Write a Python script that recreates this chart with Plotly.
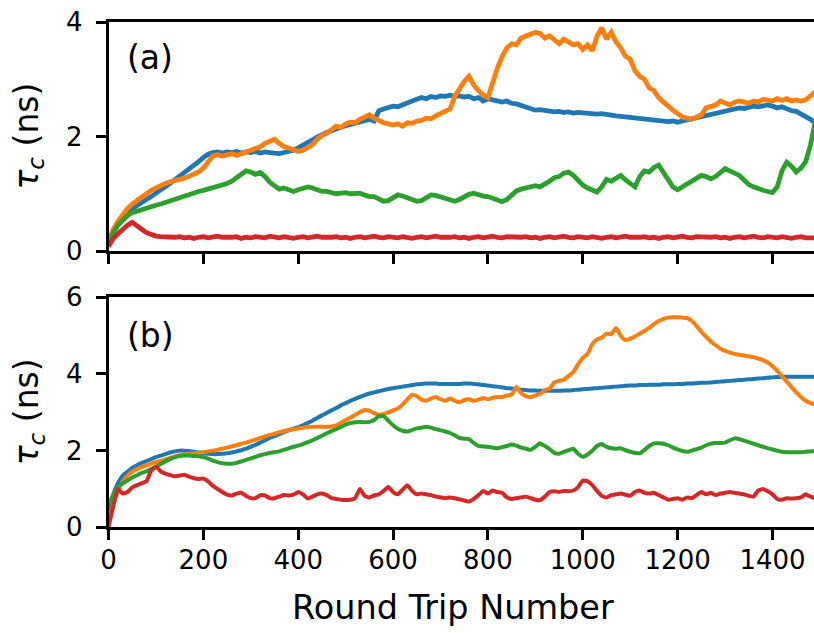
import plotly.graph_objects as go

# Round trip numbers sampled every 10 trips
rt_a = list(range(0, 1500, 10))
rt_b = list(range(0, 1500, 10))

# Panel (a): correlation time tau_c (ns)
tau_a_blue = [
    0.15, 0.35, 0.48, 0.58, 0.66, 0.74, 0.80, 0.85, 0.90, 0.95,
    1.02, 1.07, 1.12, 1.18, 1.25, 1.32, 1.36, 1.42, 1.50, 1.56,
    1.63, 1.69, 1.72, 1.73, 1.71, 1.73, 1.72, 1.74, 1.71, 1.73,
    1.72, 1.74, 1.71, 1.73, 1.72, 1.71, 1.70, 1.72, 1.73, 1.76,
    1.80, 1.84, 1.88, 1.94, 1.99, 2.04, 2.07, 2.10, 2.14, 2.16,
    2.19, 2.21, 2.24, 2.26, 2.28, 2.30, 2.27, 2.45, 2.48, 2.50,
    2.53, 2.52, 2.56, 2.60, 2.62, 2.65, 2.68, 2.66, 2.70, 2.68,
    2.71, 2.70, 2.72, 2.70, 2.71, 2.69, 2.70, 2.66, 2.68, 2.62,
    2.66, 2.64, 2.62, 2.60, 2.62, 2.58, 2.57, 2.54, 2.50, 2.49,
    2.46, 2.47, 2.45, 2.44, 2.43, 2.44, 2.42, 2.43, 2.41, 2.42,
    2.41, 2.40, 2.41, 2.39, 2.40, 2.38, 2.37, 2.36, 2.35, 2.34,
    2.35, 2.32, 2.31, 2.30, 2.29, 2.30, 2.28, 2.27, 2.26, 2.27,
    2.25, 2.27, 2.29, 2.31, 2.33, 2.35, 2.37, 2.40, 2.42, 2.43,
    2.44, 2.46, 2.48, 2.50, 2.49, 2.51, 2.53, 2.52, 2.54, 2.55,
    2.53, 2.50, 2.52, 2.48, 2.45, 2.44, 2.40, 2.36, 2.30, 2.24,
]
tau_a_orange = [
    0.15, 0.38, 0.52, 0.64, 0.74, 0.82, 0.88, 0.95, 1.01, 1.06,
    1.10, 1.15, 1.18, 1.21, 1.22, 1.25, 1.27, 1.30, 1.33, 1.38,
    1.45, 1.55, 1.66, 1.68, 1.66, 1.68, 1.70, 1.67, 1.70, 1.72,
    1.74, 1.78, 1.82, 1.88, 1.92, 1.95, 1.88, 1.82, 1.80, 1.78,
    1.74, 1.76, 1.80, 1.86, 1.95, 2.02, 2.06, 2.12, 2.18, 2.16,
    2.22, 2.25, 2.24, 2.30, 2.34, 2.38, 2.32, 2.27, 2.24, 2.22,
    2.20, 2.22, 2.18, 2.24, 2.23, 2.27, 2.28, 2.32, 2.31, 2.36,
    2.40, 2.45, 2.48, 2.70, 2.85, 2.96, 3.05, 2.90, 2.80, 2.72,
    2.68, 2.95, 3.20, 3.40, 3.55, 3.62, 3.60, 3.72, 3.75, 3.78,
    3.82, 3.80, 3.72, 3.76, 3.68, 3.62, 3.70, 3.66, 3.60, 3.62,
    3.52, 3.60, 3.50, 3.75, 3.90, 3.70, 3.82, 3.65, 3.55, 3.40,
    3.35, 3.15, 3.05, 3.00, 2.85, 2.80, 2.68, 2.60, 2.52, 2.46,
    2.40, 2.34, 2.32, 2.30, 2.34, 2.38, 2.50, 2.52, 2.55, 2.62,
    2.58, 2.55, 2.60, 2.62, 2.60, 2.58, 2.62, 2.60, 2.65, 2.64,
    2.62, 2.66, 2.63, 2.66, 2.62, 2.64, 2.62, 2.64, 2.72, 2.78,
]
tau_a_green = [
    0.12, 0.32, 0.45, 0.55, 0.62, 0.67, 0.70, 0.73, 0.76, 0.78,
    0.80, 0.82, 0.85, 0.88, 0.91, 0.94, 0.96, 0.99, 1.01, 1.04,
    1.06, 1.08, 1.10, 1.12, 1.14, 1.18, 1.22, 1.28, 1.35, 1.40,
    1.38, 1.34, 1.37, 1.30, 1.20, 1.14, 1.08, 1.10, 1.06, 1.04,
    1.07, 1.10, 1.12, 1.10, 1.06, 1.04, 1.04, 1.02, 1.00, 1.01,
    1.02, 1.00, 1.01, 1.01, 0.98, 0.95, 0.95, 0.90, 0.87, 0.88,
    0.93, 0.98, 0.96, 0.93, 0.90, 0.87, 0.88, 0.93, 0.98, 0.97,
    0.95, 0.92, 0.90, 0.87, 0.90, 0.95, 0.99, 1.01, 0.98, 0.96,
    0.95, 0.92, 0.89, 0.86, 0.90, 0.98, 1.05, 1.08, 1.10, 1.12,
    1.14, 1.12, 1.16, 1.22, 1.28, 1.30, 1.36, 1.38, 1.32, 1.22,
    1.15, 1.10, 1.06, 1.03, 1.12, 1.25, 1.22, 1.28, 1.32, 1.24,
    1.18, 1.12, 1.30, 1.40, 1.38, 1.46, 1.50, 1.36, 1.22, 1.12,
    1.07, 1.12, 1.18, 1.22, 1.26, 1.32, 1.30, 1.26, 1.30, 1.36,
    1.44, 1.40, 1.36, 1.32, 1.24, 1.16, 1.12, 1.08, 1.06, 1.04,
    1.02, 1.12, 1.40, 1.55, 1.48, 1.38, 1.45, 1.56, 1.85, 2.25,
]
tau_a_red = [
    0.08, 0.22, 0.30, 0.38, 0.45, 0.50, 0.45, 0.38, 0.32, 0.28,
    0.26, 0.25, 0.24, 0.23, 0.24, 0.25, 0.23, 0.24, 0.22, 0.24,
    0.25, 0.23, 0.24, 0.26, 0.24, 0.23, 0.24, 0.25, 0.22, 0.24,
    0.23, 0.25, 0.24, 0.23, 0.26, 0.24, 0.23, 0.25, 0.24, 0.22,
    0.24, 0.25, 0.23, 0.24, 0.26, 0.24, 0.23, 0.24, 0.25, 0.23,
    0.24, 0.22, 0.24, 0.25, 0.23, 0.24, 0.26, 0.24, 0.23, 0.25,
    0.24, 0.23, 0.25, 0.24, 0.22, 0.24, 0.25, 0.23, 0.24, 0.26,
    0.24, 0.23, 0.24, 0.25, 0.23, 0.24, 0.22, 0.24, 0.25, 0.23,
    0.24, 0.26, 0.24, 0.23, 0.25, 0.24, 0.23, 0.24, 0.25, 0.23,
    0.24, 0.22, 0.24, 0.25, 0.23, 0.24, 0.26, 0.24, 0.23, 0.25,
    0.24, 0.23, 0.25, 0.24, 0.22, 0.24, 0.25, 0.23, 0.24, 0.26,
    0.24, 0.23, 0.24, 0.25, 0.23, 0.24, 0.22, 0.24, 0.25, 0.23,
    0.24, 0.26, 0.24, 0.23, 0.25, 0.24, 0.23, 0.24, 0.25, 0.23,
    0.24, 0.22, 0.24, 0.25, 0.23, 0.24, 0.26, 0.24, 0.23, 0.25,
    0.24, 0.23, 0.25, 0.24, 0.22, 0.24, 0.25, 0.23, 0.24, 0.23,
]

# Panel (b): correlation time tau_c (ns)
tau_b_blue = [
    0.30, 0.85, 1.15, 1.35, 1.45, 1.55, 1.62, 1.68, 1.73, 1.78,
    1.83, 1.87, 1.91, 1.95, 1.98, 2.00, 2.00, 1.99, 1.97, 1.95,
    1.93, 1.92, 1.91, 1.91, 1.92, 1.93, 1.95, 1.98, 2.01, 2.05,
    2.10, 2.15, 2.21, 2.27, 2.33, 2.38, 2.43, 2.48, 2.53, 2.57,
    2.61, 2.66, 2.72, 2.78, 2.85, 2.92, 2.98, 3.05, 3.11, 3.18,
    3.24, 3.30, 3.35, 3.40, 3.45, 3.49, 3.52, 3.55, 3.58, 3.61,
    3.63, 3.65, 3.67, 3.69, 3.71, 3.73, 3.74, 3.75, 3.75, 3.75,
    3.74, 3.74, 3.74, 3.74, 3.74, 3.75, 3.75, 3.74, 3.73, 3.71,
    3.70, 3.68, 3.67, 3.65, 3.63, 3.62, 3.60, 3.59, 3.58, 3.57,
    3.57, 3.56, 3.56, 3.56, 3.56, 3.56, 3.57, 3.57, 3.58, 3.59,
    3.60, 3.61, 3.62, 3.63, 3.64, 3.65, 3.66, 3.67, 3.68, 3.69,
    3.70, 3.70, 3.71, 3.71, 3.72, 3.72, 3.72, 3.73, 3.73, 3.73,
    3.74, 3.74, 3.75, 3.75, 3.76, 3.77, 3.77, 3.78, 3.79, 3.80,
    3.81, 3.82, 3.83, 3.84, 3.85, 3.86, 3.87, 3.88, 3.89, 3.90,
    3.91, 3.92, 3.92, 3.93, 3.93, 3.93, 3.93, 3.93, 3.93, 3.93,
]
tau_b_orange = [
    0.15, 0.60, 0.95, 1.20, 1.35, 1.45, 1.52, 1.57, 1.62, 1.66,
    1.70, 1.73, 1.77, 1.81, 1.85, 1.88, 1.90, 1.92, 1.93, 1.94,
    1.96, 1.98, 2.00, 2.02, 2.05, 2.08, 2.11, 2.14, 2.18, 2.21,
    2.25, 2.29, 2.33, 2.37, 2.41, 2.44, 2.48, 2.51, 2.54, 2.56,
    2.58, 2.60, 2.61, 2.62, 2.62, 2.62, 2.62, 2.63, 2.66, 2.72,
    2.80, 2.86, 2.93, 3.00, 3.06, 3.04, 2.98, 2.94, 2.95, 3.00,
    3.05, 3.10, 3.20, 3.34, 3.46, 3.42, 3.33, 3.30, 3.36, 3.40,
    3.34, 3.30, 3.36, 3.30, 3.26, 3.32, 3.34, 3.30, 3.33, 3.37,
    3.34, 3.38, 3.40, 3.40, 3.44, 3.46, 3.66, 3.50, 3.42, 3.40,
    3.44, 3.48, 3.58, 3.62, 3.78, 3.82, 3.85, 3.95, 4.05, 4.25,
    4.42, 4.52, 4.78, 4.90, 4.95, 5.05, 5.04, 5.20, 5.00, 4.88,
    4.92, 4.98, 5.05, 5.12, 5.20, 5.30, 5.38, 5.44, 5.47, 5.48,
    5.48, 5.47, 5.46, 5.38, 5.25, 5.10, 4.97, 4.85, 4.75, 4.66,
    4.60, 4.56, 4.52, 4.50, 4.48, 4.46, 4.44, 4.40, 4.36, 4.30,
    4.20, 4.08, 3.94, 3.80, 3.66, 3.52, 3.40, 3.30, 3.24, 3.20,
]
tau_b_green = [
    0.60, 0.85, 1.05, 1.15, 1.22, 1.30, 1.36, 1.42, 1.46, 1.52,
    1.58, 1.65, 1.72, 1.78, 1.83, 1.86, 1.87, 1.87, 1.86, 1.85,
    1.83, 1.79, 1.74, 1.70, 1.67, 1.66, 1.66, 1.68, 1.72, 1.76,
    1.80, 1.84, 1.88, 1.91, 1.94, 1.96, 1.98, 2.02, 2.06, 2.10,
    2.13, 2.17, 2.22, 2.27, 2.33, 2.39, 2.45, 2.51, 2.56, 2.62,
    2.68, 2.72, 2.74, 2.75, 2.74, 2.75, 2.80, 2.90, 2.90, 2.78,
    2.66, 2.57, 2.52, 2.50, 2.54, 2.58, 2.60, 2.62, 2.60, 2.56,
    2.53, 2.50, 2.46, 2.40, 2.33, 2.31, 2.30, 2.20, 2.12, 2.11,
    2.10, 2.08, 2.06, 2.09, 2.12, 2.16, 2.13, 2.08, 2.05, 2.02,
    2.10, 2.19, 2.12, 2.04, 1.94, 1.92, 1.97, 2.01, 2.05, 1.92,
    1.84, 1.90, 2.00, 2.12, 2.17, 2.10, 2.06, 2.05, 2.06, 2.01,
    1.97, 1.94, 1.93, 2.02, 2.12, 2.19, 2.19, 2.18, 2.14, 2.08,
    2.03, 1.99, 1.97, 2.00, 2.04, 2.08, 2.14, 2.18, 2.20, 2.20,
    2.21, 2.27, 2.32, 2.30, 2.26, 2.22, 2.18, 2.14, 2.10, 2.06,
    2.03, 2.00, 1.97, 1.96, 1.96, 1.96, 1.96, 1.97, 1.98, 1.99,
]
tau_b_red = [
    0.00, 0.55, 1.00, 0.88, 0.92, 1.04, 1.10, 1.15, 1.20, 1.48,
    1.58, 1.46, 1.40, 1.36, 1.33, 1.35, 1.37, 1.32, 1.28, 1.26,
    1.27, 1.20, 1.08, 1.00, 0.92, 0.85, 0.83, 0.88, 0.90, 0.82,
    0.76, 0.76, 0.84, 0.83, 0.76, 0.76, 0.80, 0.84, 0.83, 0.85,
    0.92, 0.86, 0.75, 0.80, 0.86, 0.88, 0.84, 0.76, 0.74, 0.72,
    0.71, 0.72, 0.76, 1.00, 0.82, 0.78, 0.83, 0.86, 0.95, 1.05,
    0.92, 0.86, 0.98, 1.10, 0.95, 0.86, 0.88, 0.86, 0.84, 0.80,
    0.78, 0.76, 0.78, 0.76, 0.73, 0.70, 0.67, 0.74, 0.84, 0.95,
    0.88, 0.96, 0.92, 0.90, 0.78, 0.74, 0.76, 0.78, 0.80, 0.76,
    0.72, 0.71, 0.80, 0.92, 0.94, 0.92, 0.95, 0.94, 0.96, 1.05,
    1.22, 1.20, 1.10, 0.95, 0.82, 0.78, 0.84, 0.86, 0.88, 0.85,
    0.82, 0.92, 0.96, 0.90, 0.88, 0.90, 0.84, 0.78, 0.72, 0.74,
    0.76, 0.72, 0.78, 0.76, 0.84, 0.92, 0.86, 0.90, 0.84, 0.88,
    0.90, 0.92, 0.90, 0.88, 0.86, 0.82, 0.80, 0.96, 1.00, 0.94,
    0.86, 0.74, 0.72, 0.76, 0.75, 0.76, 0.78, 0.86, 0.80, 0.76,
]

x_ticks = [0, 200, 400, 600, 800, 1000, 1200, 1400]
y_ticks_a = [0, 2, 4]
y_ticks_b = [0, 2, 4, 6]

colors = ["#1f77b4", "#ff7f0e", "#2ca02c", "#d62728"]
FONT = "DejaVu Sans"

fig = go.Figure()

for ys, c in zip([tau_a_blue, tau_a_orange, tau_a_green, tau_a_red], colors):
    fig.add_trace(go.Scatter(x=rt_a, y=ys, mode="lines", xaxis="x", yaxis="y",
                             line=dict(color=c, width=4.8), showlegend=False))
for ys, c in zip([tau_b_blue, tau_b_orange, tau_b_green, tau_b_red], colors):
    fig.add_trace(go.Scatter(x=rt_b, y=ys, mode="lines", xaxis="x2", yaxis="y2",
                             line=dict(color=c, width=4, shape="spline", smoothing=0.4),
                             showlegend=False))

W, H = 814, 633
x_dom = [108.5 / W, 1.0]
ya_dom = [(H - 251) / H, (H - 22) / H]
yb_dom = [(H - 527.3) / H, (H - 297.3) / H]

axis_common = dict(showline=True, linecolor="black", linewidth=2.5, ticks="outside",
                   ticklen=10, tickwidth=2.5, tickcolor="black", showgrid=False,
                   zeroline=False, automargin=False,
                   tickfont=dict(family=FONT, size=26, color="black"))

fig.update_layout(
    width=W, height=H, margin=dict(l=0, r=0, t=0, b=0, autoexpand=False),
    paper_bgcolor="white", plot_bgcolor="white",
    xaxis=dict(domain=x_dom, range=[0, 1487.5], tickvals=x_ticks, showticklabels=False,
               anchor="y", mirror=True, **axis_common),
    yaxis=dict(domain=ya_dom, range=[0, 4], tickvals=y_ticks_a, anchor="x",
               ticklabelstandoff=8, **axis_common),
    xaxis2=dict(domain=x_dom, range=[0, 1487.5], tickvals=x_ticks, anchor="y2",
                mirror=True, ticklabelstandoff=-2, **axis_common),
    yaxis2=dict(domain=yb_dom, range=[0, 6], tickvals=y_ticks_b, anchor="x2",
                ticklabelstandoff=8, **axis_common),
)

ylabel = "<i>τ</i><sub><i>c</i></sub> (ns)"
title_font = dict(family=FONT, size=33, color="black")
fig.add_annotation(text=ylabel, textangle=-90, xref="paper", yref="paper",
                   x=28 / W, y=(ya_dom[0] + ya_dom[1]) / 2, xanchor="center", yanchor="middle",
                   showarrow=False, font=title_font)
fig.add_annotation(text=ylabel, textangle=-90, xref="paper", yref="paper",
                   x=28 / W, y=(yb_dom[0] + yb_dom[1]) / 2, xanchor="center", yanchor="middle",
                   showarrow=False, font=title_font)
fig.add_annotation(text="Round Trip Number", xref="paper", yref="paper",
                   x=453 / W, y=(H - 607) / H, xanchor="center", yanchor="middle",
                   showarrow=False, font=dict(family=FONT, size=33.5, color="black"))
fig.add_annotation(text="(a)", xref="x domain", yref="y domain", x=0.0234, y=0.843,
                   xanchor="left", yanchor="middle", showarrow=False, font=title_font)
fig.add_annotation(text="(b)", xref="x2 domain", yref="y2 domain", x=0.0234, y=0.836,
                   xanchor="left", yanchor="middle", showarrow=False, font=title_font)

fig.write_html("out.html")
